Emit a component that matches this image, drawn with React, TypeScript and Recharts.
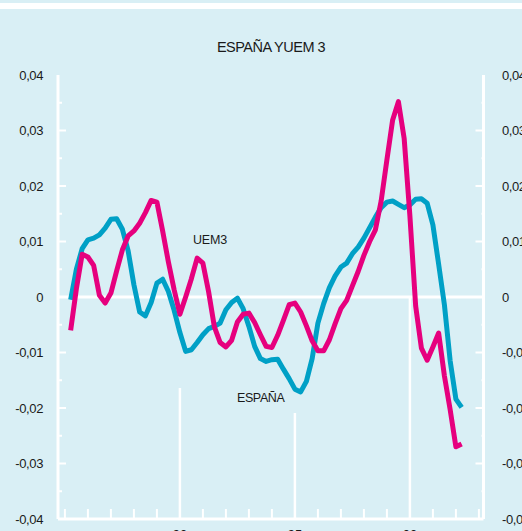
import React from 'react';
import { LineChart, Line, XAxis, YAxis, ReferenceLine } from 'recharts';

const quarters = [
  1985.25, 1985.5, 1985.75, 1986, 1986.25, 1986.5, 1986.75, 1987, 1987.25, 1987.5,
  1987.75, 1988, 1988.25, 1988.5, 1988.75, 1989, 1989.25, 1989.5, 1989.75, 1990,
  1990.25, 1990.5, 1990.75, 1991, 1991.25, 1991.5, 1991.75, 1992, 1992.25, 1992.5,
  1992.75, 1993, 1993.25, 1993.5, 1993.75, 1994, 1994.25, 1994.5, 1994.75, 1995,
  1995.25, 1995.5, 1995.75, 1996, 1996.25, 1996.5, 1996.75, 1997, 1997.25, 1997.5,
  1997.75, 1998, 1998.25, 1998.5, 1998.75, 1999, 1999.25, 1999.5, 1999.75, 2000,
  2000.25, 2000.5, 2000.75, 2001, 2001.25, 2001.5, 2001.75, 2002, 2002.25,
];

const espana = [
  -0.0005, 0.005, 0.0087, 0.0103, 0.0106, 0.0112, 0.0124, 0.014, 0.0141, 0.0122,
  0.0083, 0.0022, -0.0027, -0.0034, -0.001, 0.0025, 0.0032, 0.001, -0.0024, -0.0064,
  -0.0098, -0.0095, -0.0082, -0.0068, -0.0057, -0.0053, -0.0047, -0.0023, -0.001, -0.0002,
  -0.0021, -0.0053, -0.0089, -0.0111, -0.0116, -0.0113, -0.0112, -0.013, -0.0147, -0.0166,
  -0.0171, -0.0152, -0.0111, -0.0047, -0.0012, 0.0017, 0.0038, 0.0054, 0.0061, 0.0078,
  0.009, 0.0106, 0.0125, 0.0144, 0.0161, 0.0171, 0.0173, 0.0167, 0.0161, 0.0166,
  0.0176, 0.0177, 0.0169, 0.013, 0.0059, -0.0014, -0.0115, -0.0184, -0.0199,
];

const uem3 = [
  -0.006, 0.0015, 0.0077, 0.0072, 0.0057, 0.0003, -0.0011, 0.0007, 0.0047, 0.0085,
  0.011, 0.0119, 0.0133, 0.0152, 0.0174, 0.0171, 0.0119, 0.0063, 0.0013, -0.0031,
  0.0, 0.0033, 0.007, 0.0061, 0.0009, -0.0054, -0.0082, -0.009, -0.0078, -0.0045,
  -0.0031, -0.0029, -0.0046, -0.0068, -0.0089, -0.0091, -0.0069, -0.0042, -0.0014, -0.0011,
  -0.0027, -0.0052, -0.0079, -0.0097, -0.0097, -0.0077, -0.0048, -0.0021, -0.0006, 0.002,
  0.0046, 0.0075, 0.01, 0.0121, 0.0173, 0.0247, 0.0319, 0.0352, 0.0286, 0.0146,
  -0.0016, -0.0092, -0.0114, -0.009, -0.0065, -0.0142, -0.0203, -0.027, -0.0265,
];

const yTicks = [
  -0.04, -0.035, -0.03, -0.025, -0.02, -0.015, -0.01, -0.005, 0,
  0.005, 0.01, 0.015, 0.02, 0.025, 0.03, 0.035, 0.04,
];
const xTicks = [
  1985, 1986, 1987, 1988, 1989, 1990, 1991, 1992, 1993, 1994,
  1995, 1996, 1997, 1998, 1999, 2000, 2001, 2002, 2003,
];
const majorYears = [1990, 1995, 2000];
const majorLabels = ['90', '95', '00'];
const majorLineTops = [-0.0164, -0.0209, 0];

const data = quarters.map((q, i) => ({ year: q, espana: espana[i], uem3: uem3[i] }));

const BG = '#d9eff5';
const PINK = '#e6007e';
const BLUE = '#00a0c6';
const FONT = '"Liberation Sans", Arial, Helvetica, sans-serif';

const isMajor = (v: number) => Math.abs(v * 100 - Math.round(v * 100)) < 1e-6;
const isEdge = (v: number) => Math.abs(Math.abs(v) - 0.04) < 1e-9;
const fmt = (v: number) => {
  if (Math.abs(v) < 1e-9) return '0';
  return v.toFixed(2).replace('.', ',');
};

const LeftTick = (props: any) => {
  const { x, y, payload } = props;
  const v = payload.value as number;
  const major = isMajor(v);
  return (
    <g>
      {!isEdge(v) && (
        <line x1={x} x2={x + (major ? 8 : 4)} y1={y} y2={y} stroke="#fff" strokeWidth={2} />
      )}
      {major && (
        <text x={x - 15} y={y} dy={4.5} textAnchor="end" fill="#1a1a1a" fontSize={13} letterSpacing={-0.4} fontFamily={FONT}>
          {fmt(v)}
        </text>
      )}
    </g>
  );
};

const RightTick = (props: any) => {
  const { x, y, payload } = props;
  const v = payload.value as number;
  const major = isMajor(v);
  return (
    <g>
      {!isEdge(v) && (
        <line x1={x} x2={x - (major ? 8 : 2)} y1={y} y2={y} stroke="#fff" strokeWidth={2} />
      )}
      {major && (
        <text x={x + 18.5} y={y} dy={4.5} textAnchor="start" fill="#1a1a1a" fontSize={13} letterSpacing={-0.4} fontFamily={FONT}>
          {fmt(v)}
        </text>
      )}
    </g>
  );
};

const BottomTick = (props: any) => {
  const { x, y, payload } = props;
  const v = payload.value as number;
  const idx = majorYears.indexOf(v);
  return (
    <g>
      {idx < 0 && <line x1={x} x2={x} y1={y} y2={y - 10} stroke="#fff" strokeWidth={2} />}
      {idx >= 0 && (
        <text x={x} y={y + 20} textAnchor="middle" fill="#1a1a1a" fontSize={13} fontFamily={FONT}>
          {majorLabels[idx]}
        </text>
      )}
    </g>
  );
};

export default function App() {
  return (
    <div style={{ position: 'fixed', top: 0, left: 0, width: 522, height: 531, overflow: 'hidden', background: BG }}>
      <div style={{ position: 'absolute', top: 3, left: 0, width: 522, height: 6, background: '#fff' }} />
      <div
        style={{
          position: 'absolute', top: 38, left: 0, width: 542, textAlign: 'center',
          fontFamily: FONT, fontSize: 14.5, letterSpacing: -0.5, color: '#1a1a1a', lineHeight: '18px',
        }}
      >
        ESPAÑA YUEM 3
      </div>
      <div style={{ position: 'absolute', top: 0, left: 0 }}>
        <LineChart width={522} height={560} data={data} margin={{ top: 75, right: 0, bottom: 0, left: 0 }}>
          <XAxis
            type="number"
            dataKey="year"
            domain={[1984.7, 2003.2]}
            ticks={xTicks}
            interval={0}
            tickSize={0}
            tickMargin={0}
            tick={<BottomTick />}
            tickLine={false}
            axisLine={{ stroke: '#fff', strokeWidth: 3 }}
            height={41}
            allowDataOverflow
          />
          <YAxis
            yAxisId="left"
            orientation="left"
            type="number"
            domain={[-0.04, 0.04]}
            ticks={yTicks}
            interval={0}
            tickSize={0}
            tickMargin={0}
            tick={<LeftTick />}
            tickLine={false}
            axisLine={{ stroke: '#fff', strokeWidth: 3 }}
            width={58}
            allowDataOverflow
          />
          <YAxis
            yAxisId="right"
            orientation="right"
            type="number"
            domain={[-0.04, 0.04]}
            ticks={yTicks}
            interval={0}
            tickSize={0}
            tickMargin={0}
            tick={<RightTick />}
            tickLine={false}
            axisLine={{ stroke: '#fff', strokeWidth: 3 }}
            width={38.5}
            allowDataOverflow
          />
          <ReferenceLine yAxisId="left" y={0} stroke="#fff" strokeWidth={3} />
          {majorYears.map((yr, i) => (
            <ReferenceLine
              key={yr}
              yAxisId="left"
              segment={[{ x: yr, y: -0.04 }, { x: yr, y: majorLineTops[i] }]}
              stroke="#fff"
              strokeWidth={2.5}
            />
          ))}
          <Line
            yAxisId="left"
            type="linear"
            dataKey="espana"
            stroke={BLUE}
            strokeWidth={5}
            dot={false}
            strokeLinejoin="round"
            isAnimationActive={false}
          />
          <Line
            yAxisId="left"
            type="linear"
            dataKey="uem3"
            stroke={PINK}
            strokeWidth={5}
            dot={false}
            strokeLinejoin="round"
            isAnimationActive={false}
          />
        </LineChart>
      </div>
      <div style={{ position: 'absolute', left: 193, top: 232, fontFamily: FONT, fontSize: 12.5, letterSpacing: -0.2, color: '#1a1a1a', lineHeight: '16px' }}>
        UEM3
      </div>
      <div style={{ position: 'absolute', left: 237, top: 390, fontFamily: FONT, fontSize: 12.5, letterSpacing: -0.4, color: '#1a1a1a', lineHeight: '16px' }}>
        ESPAÑA
      </div>
    </div>
  );
}
